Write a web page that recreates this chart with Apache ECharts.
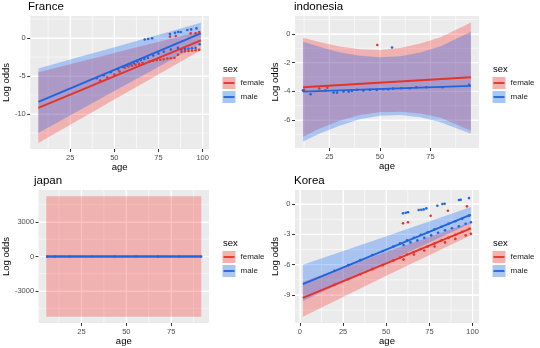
<!DOCTYPE html>
<html>
<head>
<meta charset="utf-8">
<script src="https://cdn.jsdelivr.net/npm/echarts@6/dist/echarts.min.js"></script>
<style>
  html, body { margin: 0; padding: 0; background: #ffffff; }
  #chart { width: 540px; height: 348px; }
</style>
</head>
<body>
<div id="chart"></div>
<script>
// ---------------- France ----------------
const franceBandAge = [7, 30, 50, 70, 85, 99];
const franceFemaleUpper = [-4.5, -3.15, -1.98, -0.8, 0.08, 0.9];
const franceFemaleLower = [-13.8, -10.75, -8.1, -5.45, -3.46, -1.6];
const franceMaleUpper = [-4.0, -2.5, -1.2, 0.1, 1.1, 2.0];
const franceMaleLower = [-12.5, -9.55, -6.98, -4.42, -2.49, -0.7];
const franceFitAge = [7, 99];
const franceFemaleFit = [-9.2, -0.3];
const franceMaleFit = [-8.4, 0.6];
const franceFemaleAge = [42, 46, 50, 53, 56, 58, 60, 62, 64, 66, 70, 72, 74, 76, 78, 80, 82, 84, 86, 88, 90, 92, 94, 96, 98, 81.5, 84.8, 93.2, 96, 98];
const franceFemaleVal = [-5.6, -5.2, -4.8, -4.4, -3.9, -3.75, -3.65, -3.5, -3.4, -3.3, -3.1, -3.0, -2.9, -2.85, -2.8, -2.7, -2.65, -2.6, -2.2, -1.8, -1.75, -1.7, -1.65, -1.6, -1.55, 0.18, 0.26, 0.61, 0.61, 0.8];
const franceMaleAge = [40, 44, 48, 52, 55, 57, 59, 61, 63, 65, 67, 69, 72, 75, 78, 82, 86, 88, 90, 92, 94, 96, 67.2, 69.2, 71.4, 81.5, 84.3, 86.1, 87.6, 91.3, 93.5, 96.5, 98.3];
const franceMaleVal = [-5.3, -4.9, -4.5, -4.1, -3.8, -3.6, -3.45, -3.3, -3.1, -2.9, -2.75, -2.6, -2.3, -2.05, -1.8, -1.5, -1.3, -1.5, -1.45, -1.4, -1.35, -1.3, -0.2, -0.12, -0.02, 0.53, 0.7, 0.79, 0.79, 1.05, 1.14, 1.27, -0.83];
const franceXTicks = [25, 50, 75, 100];
const franceYTicks = [-10, -5, 0];

// ---------------- indonesia ----------------
const indoBandAge = [12, 20, 30, 40, 50, 60, 70, 80, 95];
const indoFemaleUpper = [-0.26, -0.56, -0.88, -1.07, -1.12, -0.98, -0.67, -0.23, 0.8];
const indoFemaleLower = [-7.16, -6.6, -6.05, -5.65, -5.45, -5.42, -5.55, -5.85, -6.75];
const indoMaleUpper = [-0.54, -0.9, -1.28, -1.52, -1.62, -1.55, -1.3, -0.85, 0.16];
const indoMaleLower = [-7.5, -6.95, -6.4, -5.95, -5.7, -5.65, -5.8, -6.15, -6.95];
const indoFitAge = [12, 95];
const indoFemaleFit = [-3.72, -3.02];
const indoMaleFit = [-4.02, -3.62];
const indoFemaleAge = [12.5, 20, 24, 48.7];
const indoFemaleVal = [-3.9, -3.8, -3.75, -0.77];
const indoMaleAge = [11.9, 15.7, 23, 27.1, 28.8, 32, 34.5, 36.1, 38.6, 41.8, 45.1, 48.4, 51.6, 54.1, 56.5, 60.6, 64.7, 68, 72.9, 81, 94.1, 56];
const indoMaleVal = [-3.95, -4.2, -3.95, -4.09, -4.09, -4.02, -4.02, -3.97, -3.9, -3.95, -3.9, -3.9, -3.86, -3.86, -3.81, -3.79, -3.79, -3.72, -3.72, -3.72, -3.55, -0.95];
const indoXTicks = [25, 50, 75];
const indoYTicks = [-6, -4, -2, 0];

// ---------------- japan ----------------
const japanBandAge = [5.4, 91.8];
const japanFemaleUpper = [5230, 5230];
const japanFemaleLower = [-5230, -5230];
const japanFitAge = [5.4, 91.8];
const japanFemaleFit = [0, 0];
const japanMaleFit = [0, 0];
const japanFemaleAge = [31];
const japanFemaleVal = [0];
const japanMaleAge = [6, 10.2, 18.4, 43.4, 55.5, 67.7, 79.6, 91.7];
const japanMaleVal = [0, 0, 0, 0, 0, 0, 0, 0];
const japanXTicks = [25, 50, 75];
const japanYTicks = [-3000, 0, 3000];

// ---------------- Korea ----------------
const koreaBandAge = [1.7, 50, 99];
const koreaFemaleUpper = [-7.7, -4.75, -1.8];
const koreaFemaleLower = [-11.15, -7.1, -3.1];
const koreaMaleUpper = [-6.0, -3.2, -0.3];
const koreaMaleLower = [-9.6, -5.8, -1.9];
const koreaFitAge = [1.7, 99];
const koreaFemaleFit = [-9.3, -2.4];
const koreaMaleFit = [-7.92, -1.06];
const koreaFemaleAge = [20, 28, 35, 42, 48, 54, 58, 62, 66, 70, 74, 78, 82, 86, 90, 94, 98,
  60, 66, 72, 78, 84, 90, 96, 99, 59.7, 62.6, 75.7, 85.7, 96.7];
const koreaFemaleVal = [-8.0, -7.45, -6.95, -6.45, -6.05, -5.6, -5.3, -5.0, -4.75, -4.45, -4.2, -3.9, -3.6, -3.35, -3.05, -2.75, -2.45,
  -5.5, -5.0, -4.6, -4.2, -3.8, -3.45, -3.1, -2.95, -1.91, -1.81, -1.16, -0.66, -0.23];
const koreaMaleAge = [20, 28, 35, 42, 48, 54, 58, 62, 66, 70, 74, 78, 82, 86, 90, 94, 98,
  60, 64, 68, 72, 76, 80, 84, 88, 92, 96, 99,
  59.7, 61.3, 62.6, 68.8, 70.3, 71.7, 73.2, 79.6, 82.5, 83.8, 92.1, 93.1, 97.9];
const koreaMaleVal = [-6.6, -6.05, -5.55, -5.05, -4.65, -4.2, -3.9, -3.6, -3.35, -3.05, -2.8, -2.5, -2.25, -1.95, -1.7, -1.45, -1.15,
  -4.05, -3.8, -3.6, -3.35, -3.1, -2.85, -2.6, -2.4, -2.2, -1.95, -1.8,
  -0.92, -0.86, -0.82, -0.59, -0.56, -0.53, -0.43, -0.17, 0, 0.03, 0.4, 0.43, 0.59];
const koreaXTicks = [0, 25, 50, 75, 100];
const koreaYTicks = [-9, -6, -3, 0];

const sexLevels = ['female', 'male'];

// ---------------- styling ----------------
const FONT = '"Liberation Sans", Arial, Helvetica, sans-serif';
const RED = '#E5332A';
const BLUE = '#1F65DE';
const RED_FILL = 'rgba(255, 10, 10, 0.26)';
const BLUE_FILL = 'rgba(0, 95, 255, 0.28)';
const KEY_FILL = { female: '#F2B2AE', male: '#A9C6F1' };
const LINE = { female: RED, male: BLUE };

const zip = (a, b) => a.map((v, i) => [v, b[i]]);
// minor breaks sit halfway between the labelled breaks
const midpoints = (ticks, lo, hi) => {
  const step = ticks[1] - ticks[0];
  const out = [];
  for (let v = ticks[0] - step / 2; v <= hi; v += step) if (v >= lo) out.push(v);
  return out;
};

const panels = [
  {
    title: 'France', grid: { left: 29, top: 16, width: 180, height: 133 },
    xRange: [2.4, 103.6], yRange: [-14.6, 2.9], xTicks: franceXTicks, yTicks: franceYTicks, yGap: 14,
    bands: { female: [franceBandAge, franceFemaleLower, franceFemaleUpper], male: [franceBandAge, franceMaleLower, franceMaleUpper] },
    fits: { female: [franceFitAge, franceFemaleFit], male: [franceFitAge, franceMaleFit] },
    points: { female: [franceFemaleAge, franceFemaleVal], male: [franceMaleAge, franceMaleVal] },
    legend: [222.5, 64]
  },
  {
    title: 'indonesia', grid: { left: 295, top: 16, width: 184, height: 132 },
    xRange: [8, 99], yRange: [-7.95, 1.25], xTicks: indoXTicks, yTicks: indoYTicks, yGap: 10,
    bands: { female: [indoBandAge, indoFemaleLower, indoFemaleUpper], male: [indoBandAge, indoMaleLower, indoMaleUpper] },
    fits: { female: [indoFitAge, indoFemaleFit], male: [indoFitAge, indoMaleFit] },
    points: { female: [indoFemaleAge, indoFemaleVal], male: [indoMaleAge, indoMaleVal] },
    legend: [492.5, 64]
  },
  {
    title: 'japan', grid: { left: 35, top: 190, width: 174, height: 133 },
    xRange: [1.1, 96.1], yRange: [-5780, 5780], xTicks: japanXTicks, yTicks: japanYTicks, yGap: 20,
    bands: { female: [japanBandAge, japanFemaleLower, japanFemaleUpper] },
    fits: { female: [japanFitAge, japanFemaleFit], male: [japanFitAge, japanMaleFit] },
    points: { female: [japanFemaleAge, japanFemaleVal], male: [japanMaleAge, japanMaleVal] },
    legend: [222.5, 238]
  },
  {
    title: 'Korea', grid: { left: 295, top: 190, width: 184, height: 133 },
    xRange: [-2.85, 103.7], yRange: [-11.78, 1.39], xTicks: koreaXTicks, yTicks: koreaYTicks, yGap: 10,
    bands: { female: [koreaBandAge, koreaFemaleLower, koreaFemaleUpper], male: [koreaBandAge, koreaMaleLower, koreaMaleUpper] },
    fits: { female: [koreaFitAge, koreaFemaleFit], male: [koreaFitAge, koreaMaleFit] },
    points: { female: [koreaFemaleAge, koreaFemaleVal], male: [koreaMaleAge, koreaMaleVal] },
    legend: [492.5, 238]
  }
];

const grids = [], xAxes = [], yAxes = [], series = [], titles = [], legends = [], graphics = [];

// white panel grid: vertical lines at x breaks, horizontal lines at y breaks
function panelGridLines(p, axis) {
  const rows = [];
  p.xTicks.forEach(v => rows.push([v, 0, 1.2]));
  midpoints(p.xTicks, p.xRange[0], p.xRange[1]).forEach(v => rows.push([v, 0, 0.6]));
  p.yTicks.forEach(v => rows.push([v, 1, 1.2]));
  midpoints(p.yTicks, p.yRange[0], p.yRange[1]).forEach(v => rows.push([v, 1, 0.6]));
  return {
    type: 'custom', xAxisIndex: axis, yAxisIndex: axis, data: rows, z: 1,
    renderItem(params, api) {
      const [v, horizontal, w] = rows[params.dataIndex];
      const a = horizontal ? api.coord([p.xRange[0], v]) : api.coord([v, p.yRange[0]]);
      const b = horizontal ? api.coord([p.xRange[1], v]) : api.coord([v, p.yRange[1]]);
      return { type: 'line', shape: { x1: a[0], y1: a[1], x2: b[0], y2: b[1] }, style: { stroke: '#FFFFFF', lineWidth: w } };
    }
  };
}

function ribbon(name, ages, lo, hi, fill, axis) {
  const rows = ages.map((a, i) => [a, lo[i], hi[i]]);
  return {
    type: 'custom', name, xAxisIndex: axis, yAxisIndex: axis, data: rows,
    encode: { x: 0, y: [1, 2] }, silent: true, z: 2,
    renderItem(params, api) {
      if (params.dataIndex !== 0) return null;
      const top = rows.map(r => api.coord([r[0], r[2]]));
      const bottom = rows.map(r => api.coord([r[0], r[1]])).reverse();
      return { type: 'polygon', shape: { points: top.concat(bottom) }, style: { fill, stroke: null } };
    }
  };
}

const tickLabel = { color: '#4D4D4D', fontSize: 7.5, fontFamily: FONT };
const nameStyle = { color: '#000000', fontSize: 9.5, fontFamily: FONT };

panels.forEach((p, i) => {
  grids.push({ ...p.grid, show: true, backgroundColor: '#EBEBEB', borderWidth: 0, containLabel: false });
  xAxes.push({
    type: 'value', gridIndex: i, min: p.xRange[0], max: p.xRange[1],
    name: 'age', nameLocation: 'middle', nameGap: 10, nameTextStyle: nameStyle,
    axisLine: { show: false, onZero: false },
    axisTick: { show: true, length: 3, lineStyle: { color: '#333333', width: 1 }, customValues: p.xTicks },
    axisLabel: { ...tickLabel, margin: 4.5, customValues: p.xTicks, formatter: v => String(v) },
    splitLine: { show: true, lineStyle: { color: '#FFFFFF', width: 1 } }
  });
  yAxes.push({
    type: 'value', gridIndex: i, min: p.yRange[0], max: p.yRange[1],
    name: 'Log odds', nameLocation: 'middle', nameGap: p.yGap, nameTextStyle: nameStyle,
    axisLine: { show: false, onZero: false },
    axisTick: { show: true, length: 3, lineStyle: { color: '#333333', width: 1 }, customValues: p.yTicks },
    axisLabel: { ...tickLabel, margin: 4.5, customValues: p.yTicks, formatter: v => String(v) },
    splitLine: { show: true, lineStyle: { color: '#FFFFFF', width: 1 } }
  });

  titles.push({
    text: p.title, left: p.grid.left - 1, top: p.grid.top - 15,
    textStyle: { fontSize: 11.5, fontWeight: 'normal', color: '#000000', fontFamily: FONT }, padding: 0
  });

  series.push(panelGridLines(p, i));
  sexLevels.forEach(sex => {
    const fill = sex === 'female' ? RED_FILL : BLUE_FILL;
    if (p.bands[sex]) series.push(ribbon(sex, p.bands[sex][0], p.bands[sex][1], p.bands[sex][2], fill, i));
  });
  sexLevels.forEach(sex => {
    series.push({
      type: 'scatter', name: sex, xAxisIndex: i, yAxisIndex: i, z: 3,
      data: zip(p.points[sex][0], p.points[sex][1]), symbolSize: 2.6,
      itemStyle: { color: LINE[sex], opacity: 1 }, silent: true
    });
  });
  sexLevels.forEach(sex => {
    series.push({
      type: 'line', name: sex, xAxisIndex: i, yAxisIndex: i, z: 4,
      data: zip(p.fits[sex][0], p.fits[sex][1]), showSymbol: false, symbol: 'none',
      lineStyle: { color: LINE[sex], width: 1.9 }, itemStyle: { color: LINE[sex] }, silent: true
    });
  });

  const [lx, ly] = p.legend;
  legends.push({
    left: lx, top: ly + 13, orient: 'vertical', padding: 0, itemGap: 2,
    itemWidth: 13, itemHeight: 12, selectedMode: false,
    textStyle: { fontSize: 8, color: '#1A1A1A', fontFamily: FONT },
    data: sexLevels.map(sex => ({ name: sex, icon: 'rect', itemStyle: { color: KEY_FILL[sex], borderWidth: 0 } }))
  });
  graphics.push({
    type: 'text', left: lx + 0.5, top: ly, z: 100,
    style: { text: 'sex', fontSize: 9.5, fill: '#000000', fontFamily: FONT }
  });
  sexLevels.forEach((sex, k) => {
    const yMid = ly + 13 + k * 14 + 6;
    graphics.push({
      type: 'line', z: 100, silent: true,
      shape: { x1: lx + 1, y1: yMid, x2: lx + 12, y2: yMid },
      style: { stroke: LINE[sex], lineWidth: 1.8 }
    });
  });
});

const chart = echarts.init(document.getElementById('chart'), null, { renderer: 'canvas' });
chart.setOption({
  animation: false,
  backgroundColor: '#FFFFFF',
  textStyle: { fontFamily: FONT },
  title: titles,
  grid: grids,
  xAxis: xAxes,
  yAxis: yAxes,
  legend: legends,
  series,
  graphic: graphics
});
</script>
</body>
</html>
